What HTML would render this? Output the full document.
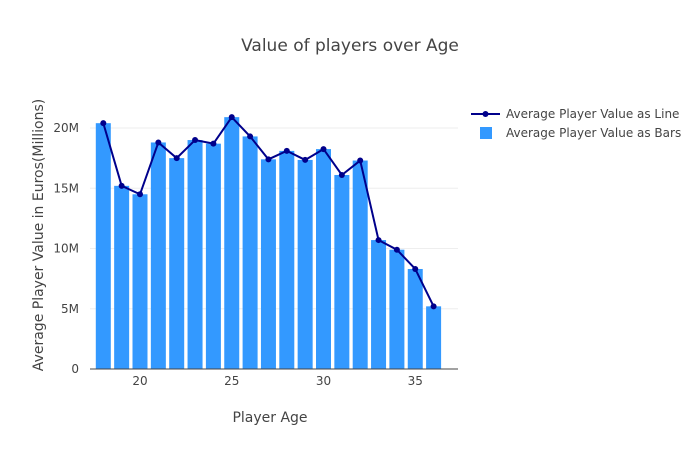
<!DOCTYPE html>
<html><head><meta charset="utf-8"><style>
body{margin:0;background:#fff;font-family:"DejaVu Sans",sans-serif;overflow:hidden}
svg text{font-family:"DejaVu Sans",sans-serif;fill:#444}
</style></head><body>
<svg id="chart" width="700" height="450">
<text x="350" y="51" font-size="17" text-anchor="middle">Value of players over Age</text>
<g id="grid"></g><g id="bars"></g><g id="line"></g><g id="axes"></g>
<text x="270" y="422" font-size="14" text-anchor="middle">Player Age</text>
<text transform="translate(43,235) rotate(-90)" font-size="14" text-anchor="middle">Average Player Value in Euros(Millions)</text>
<g>
<g><line x1="471" y1="114" x2="500" y2="114" stroke="#00008b" stroke-width="2"/><circle cx="485.5" cy="114" r="3" fill="#00008b"/><text x="506" y="118" font-size="12">Average Player Value as Line</text></g>
<g><rect x="480" y="127" width="12" height="12" fill="#3399ff"/><text x="506" y="137" font-size="12">Average Player Value as Bars</text></g>
</g>
</svg>
<script>
const ages=[18,19,20,21,22,23,24,25,26,27,28,29,30,31,32,33,34,35,36];
const values=[20.4,15.2,14.5,18.8,17.5,19.0,18.7,20.9,19.3,17.4,18.1,17.35,18.25,16.1,17.3,10.7,9.9,8.3,5.2];
const yTicks=[0,5,10,15,20];
const yTickLabels=["0","5M","10M","15M","20M"];
const xTicks=[20,25,30,35];
const NS="http://www.w3.org/2000/svg";
const xs=a=>140+(a-20)*18.35;
const ys=v=>369-v*12.05;
function mk(t,at,p){const e=document.createElementNS(NS,t);for(const k in at)e.setAttribute(k,at[k]);p.appendChild(e);return e;}
const grid=document.getElementById('grid'),bars=document.getElementById('bars'),line=document.getElementById('line'),axes=document.getElementById('axes');
yTicks.forEach((v,i)=>{
 if(v>0){const g=mk('line',{x1:90,x2:458,y1:ys(v),y2:ys(v),stroke:'#eee'},grid);
 
 }
 const t=mk('text',{x:79,y:ys(v)+4,'font-size':12,'text-anchor':'end'},axes);t.textContent=yTickLabels[i];
 
 
});
xTicks.forEach(a=>{const t=mk('text',{x:xs(a),y:385,'font-size':12,'text-anchor':'middle'},axes);t.textContent=a;
 
 });
const ax=mk('line',{x1:90,x2:458,y1:369,y2:369,stroke:'#444'},axes);


ages.forEach((a,i)=>{const b=mk('rect',{x:xs(a)-7.5,y:ys(values[i]),width:15,height:369-ys(values[i]),fill:'#3399ff'},bars);
 
 });
const pl=mk('polyline',{points:ages.map((a,i)=>xs(a)+','+ys(values[i])).join(' '),fill:'none',stroke:'#00008b','stroke-width':2},line);


ages.forEach((a,i)=>{const c=mk('circle',{cx:xs(a),cy:ys(values[i]),r:3,fill:'#00008b'},line);
 
 });
</script>
</body></html>
